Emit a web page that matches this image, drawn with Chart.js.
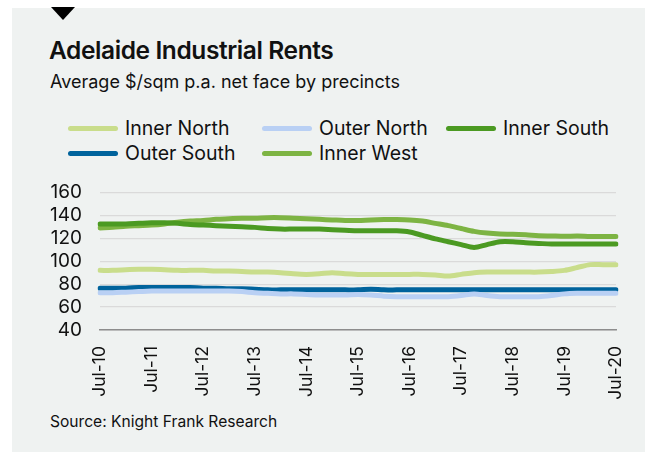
<!DOCTYPE html>
<html>
<head>
<meta charset="utf-8">
<script src="https://cdn.jsdelivr.net/npm/chart.js@4"></script>
<style>
  body { margin: 0; background: #fff; width: 645px; height: 457px; overflow: hidden; font-family: Inter, sans-serif; color: #111; }
  #panel { position: absolute; left: 12px; top: 8px; width: 633px; height: 444px; background: #eff2f1; }
  #tri { position: absolute; left: 51px; top: 7px; width: 0; height: 0; border-left: 12px solid transparent; border-right: 12px solid transparent; border-top: 13px solid #000; }
  #title { position: absolute; left: 49px; top: 35px; font-size: 24.5px; font-weight: 600; letter-spacing: -0.4px; }
  #sub { position: absolute; left: 50px; top: 71px; font-size: 18px; }
  .leg { position: absolute; font-size: 19.5px; line-height: 20px; white-space: nowrap; }
  .leg span { display: inline-block; width: 50px; height: 5px; border-radius: 3px; vertical-align: middle; margin-right: 7px; position: relative; top: -1px; }
  #source { position: absolute; left: 50px; top: 412px; font-size: 15.6px; }
  #wrap { position: absolute; left: 0; top: 163px; }
</style>
</head>
<body>
<div id="panel"></div>
<div id="tri"></div>
<div id="title">Adelaide Industrial Rents</div>
<div id="sub">Average $/sqm p.a. net face by precincts</div>
<div id="legend"></div>
<div id="wrap"><canvas id="chart" width="645" height="242"></canvas></div>
<div id="source">Source: Knight Frank Research</div>
<script>
// quarters Jul-10 .. Jul-20
const labels = ["Jul-10","Oct-10","Jan-11","Apr-11","Jul-11","Oct-11","Jan-12","Apr-12","Jul-12","Oct-12",
  "Jan-13","Apr-13","Jul-13","Oct-13","Jan-14","Apr-14","Jul-14","Oct-14","Jan-15","Apr-15",
  "Jul-15","Oct-15","Jan-16","Apr-16","Jul-16","Oct-16","Jan-17","Apr-17","Jul-17","Oct-17",
  "Jan-18","Apr-18","Jul-18","Oct-18","Jan-19","Apr-19","Jul-19","Oct-19","Jan-20","Apr-20","Jul-20"];

const innerNorth = [92,92,92.5,93,93,92.5,92,92,92,91.5,91.5,91,90.5,90.5,90,89,88.5,89,90,89,
  88.5,88.5,88.5,88.5,88.5,88.5,88,87,88.5,90,90.5,90.5,90.5,90.5,90.5,91,92,94.5,97,97,97];
const outerNorth = [72.5,72.5,73,73.5,74,74,74,74,74,74,74,73.5,72.5,72,71.5,71.5,71,70.5,70.5,70.5,
  71,70.5,69.5,69,69,69,69,69,70,71.5,70,69,69,69,69,70,71.5,72,72,72,72];
const innerSouth = [132.5,132.5,132.5,133,133.5,133.5,133,132,131.5,131,130.5,130,129.5,128.5,128,128,128,128,127.5,127,
  126.5,126.5,126.5,126.5,125.5,122.5,119.5,117,114.5,112,114.5,117,117,116,115.5,115,115,115,115,115,115];
const outerSouth = [76.5,76.5,76.5,77,77,77,77,77,76.5,76.5,76,76,75.5,75,75,75,75,75,75,75,
  75,75.5,75,75,75,75,75,75,75,75,75,75,75,75,75,75,75,75,75,75,75];
const innerWest = [129,129.5,130.5,131,131.5,132.5,134,135,135.5,136.5,137,137.5,137.5,138,138,137.5,137,136.5,136,135.5,
  135.5,136,136.3,136.3,136,135,133,131,128.5,126,124.5,123.7,123.5,123,122.3,122,121.7,122,121.5,121.5,121.5];

const seriesNames = ["Inner North", "Outer North", "Inner South", "Outer South", "Inner West"];
const seriesColors = ["#c9dd8b", "#b9d0f4", "#4b9a22", "#00639c", "#7db443"];
const seriesData = [innerNorth, outerNorth, innerSouth, outerSouth, innerWest];
const yTicks = [40, 60, 80, 100, 120, 140, 160];

// legend (html, 3 columns)
const legPos = [[68,118],[262,118],[446,118],[68,143],[262,143]];
const legend = document.getElementById("legend");
seriesNames.forEach(function (name, i) {
  const d = document.createElement("div");
  d.className = "leg";
  d.style.left = legPos[i][0] + "px";
  d.style.top = legPos[i][1] + "px";
  d.innerHTML = '<span style="background:' + seriesColors[i] + '"></span>' + name;
  legend.appendChild(d);
});

const datasets = seriesNames.map(function (name, i) {
  return {
    label: name,
    data: seriesData[i],
    borderColor: seriesColors[i],
    backgroundColor: seriesColors[i],
    borderWidth: 5,
    borderCapStyle: "round",
    borderJoinStyle: "round",
    pointRadius: 0,
    tension: 0.3
  };
});

const ctx = document.getElementById("chart");
const myChart = new Chart(ctx, {
  type: "line",
  data: { labels: labels, datasets: datasets },
  options: {
    responsive: false,
    animation: false,
    layout: { padding: { top: 4, right: 28, left: 0, bottom: 0 } },
    plugins: { legend: { display: false }, tooltip: { enabled: false } },
    scales: {
      x: {
        grid: { display: false },
        border: { display: true, color: "#8d8d8d", width: 1.5 },
        ticks: {
          color: "#111",
          autoSkip: false,
          maxRotation: 90,
          minRotation: 90,
          padding: 8,
          font: { family: "Inter, sans-serif", size: 17.5 },
          callback: function (v, i) {
            const l = labels[i];
            return l.indexOf("Jul") === 0 ? l : null;
          }
        },
        afterFit: function (s) { s.height = 75; }
      },
      y: {
        min: 40,
        max: 160,
        afterBuildTicks: function (s) { s.ticks = yTicks.map(function (v) { return { value: v }; }); },
        grid: { color: "#dadada", lineWidth: 1.2, drawTicks: false },
        border: { display: false },
        ticks: {
          color: "#111",
          autoSkip: false,
          padding: 18,
          font: { family: "Inter, sans-serif", size: 19 }
        },
        afterFit: function (s) { s.width = 100; }
      }
    }
  }
});
</script>
</body>
</html>
